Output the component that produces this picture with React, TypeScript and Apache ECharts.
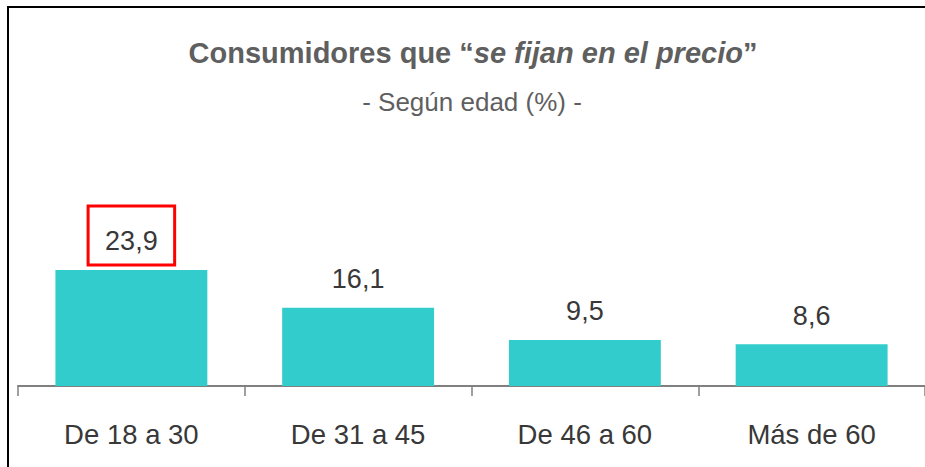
import React, { useEffect, useRef } from "react";
import * as echarts from "echarts";

const categories = ["De 18 a 30", "De 31 a 45", "De 46 a 60", "Más de 60"];
const values = [23.9, 16.1, 9.5, 8.6];
const highlightIndex = 0;

const FONT = "'Liberation Sans', Arial, sans-serif";

export default function App() {
  const ref = useRef<HTMLDivElement>(null);
  useEffect(() => {
    document.body.style.margin = "0";
    const chart = echarts.init(ref.current!, null, { renderer: "svg" });
    const fmt = (v: number) => v.toFixed(1).replace(".", ",");
    chart.setOption({
      animation: false,
      backgroundColor: "#ffffff",
      textStyle: { fontFamily: FONT },
      title: [
        {
          text: "{b|Consumidores que “}{i|se fijan en el precio}{b|”}",
          left: 468,
          top: 33,
          textAlign: "center",
          textStyle: {
            rich: {
              b: { fontFamily: FONT, fontSize: 29, fontWeight: "bold", color: "#5f5f5f" },
              i: { fontFamily: FONT, fontSize: 29, fontWeight: "bold", fontStyle: "italic", color: "#5f5f5f" },
            },
          },
        },
        {
          text: "- Según edad (%) -",
          left: 467,
          top: 84,
          textAlign: "center",
          textStyle: { fontFamily: FONT, fontSize: 26, fontWeight: "normal", color: "#5f5f5f" },
        },
      ],
      grid: { left: 18, width: 910, top: 240.4, bottom: 81, containLabel: false },
      xAxis: {
        type: "category",
        data: categories,
        axisLine: { lineStyle: { color: "#808080", width: 2 } },
        axisTick: { show: true, length: 10, lineStyle: { color: "#808080", width: 1.5 } },
        axisLabel: { fontFamily: FONT, fontSize: 27.5, color: "#383838", margin: 34, interval: 0 },
      },
      yAxis: { type: "value", min: 0, max: 30, show: false, splitLine: { show: false } },
      series: [
        {
          type: "bar",
          barWidth: "67%",
          itemStyle: { color: "#33CCCC" },
          data: values.map((v, i) =>
            i === highlightIndex
              ? {
                  value: v,
                  label: {
                    show: true,
                    position: "top",
                    distance: 5,
                    borderColor: "#ff0000",
                    borderWidth: 3,
                    padding: [21, 17, 11, 17],
                  },
                }
              : v
          ),
          label: {
            show: true,
            position: "top",
            distance: 15,
            fontFamily: FONT,
            fontSize: 27,
            color: "#383838",
            formatter: (p: any) => fmt(p.value),
          },
        },
      ],
      graphic: [
        { type: "line", shape: { x1: 8, y1: 6, x2: 8, y2: 467 }, style: { stroke: "#000", lineWidth: 2 } },
        { type: "line", shape: { x1: 7, y1: 7, x2: 925, y2: 7 }, style: { stroke: "#000", lineWidth: 2 } },
      ],
    });
    return () => chart.dispose();
  }, []);
  return <div ref={ref} style={{ width: 925, height: 467 }} />;
}
